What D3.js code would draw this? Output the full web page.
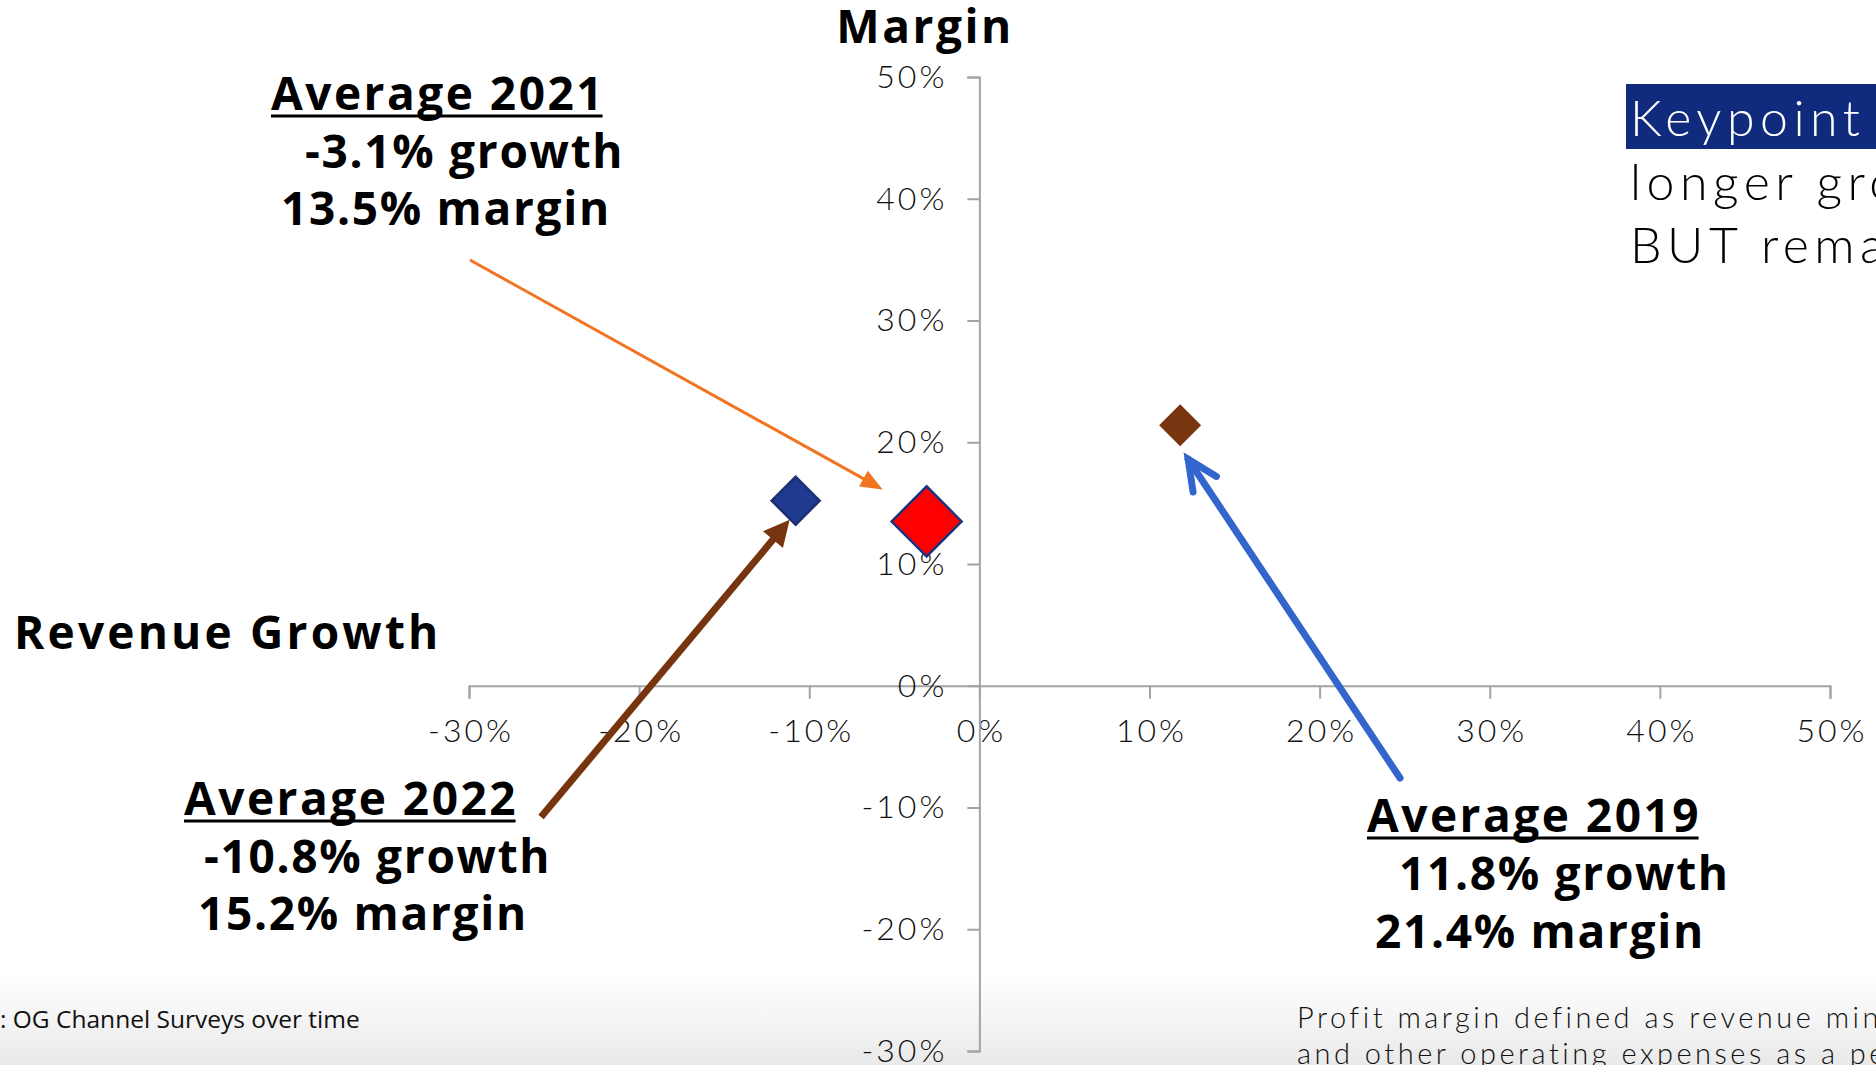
<!DOCTYPE html>
<html>
<head>
<meta charset="utf-8">
<script src="https://cdn.jsdelivr.net/npm/d3@7/dist/d3.min.js"></script>
<style>
  html, body { margin: 0; padding: 0; background: #fff; overflow: hidden; }
  svg { display: block; }
  .light { font-family: "Lato", "Open Sans", sans-serif; font-weight: 300; }
  .bold { font-family: "Open Sans", "Lato", sans-serif; font-weight: 700; }
</style>
</head>
<body>
<svg id="chart" width="1876" height="1065"></svg>
<script>
// Yearly averages: revenue growth vs. profit margin (percent)
const years = ["2019", "2021", "2022"];
const growth = [11.8, -3.1, -10.8];
const margin = [21.4, 13.5, 15.2];
const markerFill = ["#78350f", "#ff0000", "#203a8f"];
const markerStroke = ["none", "#1f3381", "#1c2f73"];
const markerSize = [880, 2450, 1150];

// Axis ticks (percent)
const xTicks = [-30, -20, -10, 0, 10, 20, 30, 40, 50];
const yTicks = [-30, -20, -10, 0, 10, 20, 30, 40, 50];

const svg = d3.select("#chart");
const W = 1876, H = 1065;

// soft grey fade along the bottom edge
const defs = svg.append("defs");
const grad = defs.append("linearGradient").attr("id", "fade")
  .attr("x1", 0).attr("y1", 0).attr("x2", 0).attr("y2", 1);
grad.append("stop").attr("offset", "0%").attr("stop-color", "#ffffff");
grad.append("stop").attr("offset", "100%").attr("stop-color", "#e9e9e9");
svg.append("rect").attr("x", 0).attr("y", 975).attr("width", W).attr("height", H - 975)
  .attr("fill", "url(#fade)");

const x = d3.scaleLinear().domain([-30, 50]).range([469, 1830]);
const y = d3.scaleLinear().domain([-30, 50]).range([1051, 77]);
const pct = d => d + "%";

// horizontal axis through margin = 0
const gx = svg.append("g").attr("transform", `translate(0,${y(0)})`)
  .call(d3.axisBottom(x).tickValues(xTicks).tickFormat(pct).tickSize(13).tickPadding(33));
// vertical axis through growth = 0
const gy = svg.append("g").attr("transform", `translate(${x(0)},0)`)
  .call(d3.axisLeft(y).tickValues(yTicks).tickFormat(pct).tickSize(12).tickPadding(20));

[gx, gy].forEach(g => {
  g.select(".domain").attr("stroke", "#a3a3a3").attr("stroke-width", 2);
  g.selectAll(".tick line").attr("stroke", "#a3a3a3").attr("stroke-width", 2);
  g.selectAll(".tick text").attr("class", "light").attr("font-size", 32)
    .style("letter-spacing", "3px").attr("fill", "#111");
});
gx.selectAll(".tick text").attr("dy", "0.32em").attr("dx", 1.5);

// axis titles
svg.append("text").attr("class", "bold").attr("x", 925).attr("y", 43)
  .attr("text-anchor", "middle").attr("font-size", 46).style("letter-spacing", "2.5px").text("Margin");
svg.append("text").attr("class", "bold").attr("x", 14).attr("y", 649)
  .attr("font-size", 46).style("letter-spacing", "3.2px").text("Revenue Growth");

// arrows from each annotation to its point
const pts = years.map((yr, i) => ({ yr, gx: x(growth[i]), gy: y(margin[i]) }));
const arrowSpec = {
  "2021": { from: [470, 260], tipOff: [-44, -32], color: "#f07422", width: 3, head: "solid", hl: 22, hw: 9 },
  "2022": { from: [541, 817], tipOff: [-6, 19], color: "#76350f", width: 7, head: "solid", hl: 26, hw: 13 },
  "2019": { from: [1400, 778], tipOff: [8, 34], color: "#3366cc", width: 7, head: "open", hl: 30, hw: 14 }
};
pts.forEach(p => {
  const a = arrowSpec[p.yr];
  const tx = p.gx + a.tipOff[0], ty = p.gy + a.tipOff[1];
  const [fx, fy] = a.from;
  const len = Math.hypot(tx - fx, ty - fy);
  const ux = (tx - fx) / len, uy = (ty - fy) / len;
  const nx = -uy, ny = ux;
  const bx = tx - ux * a.hl, by = ty - uy * a.hl;
  if (a.head === "solid") {
    svg.append("line").attr("x1", fx).attr("y1", fy).attr("x2", bx + ux * 2).attr("y2", by + uy * 2)
      .attr("stroke", a.color).attr("stroke-width", a.width);
    svg.append("path")
      .attr("d", `M${tx},${ty}L${bx + nx * a.hw},${by + ny * a.hw}L${bx - nx * a.hw},${by - ny * a.hw}Z`)
      .attr("fill", a.color);
  } else {
    svg.append("line").attr("x1", fx).attr("y1", fy).attr("x2", tx).attr("y2", ty)
      .attr("stroke", a.color).attr("stroke-width", a.width).attr("stroke-linecap", "round");
    svg.append("path")
      .attr("d", `M${bx + nx * a.hw},${by + ny * a.hw}L${tx},${ty}L${bx - nx * a.hw},${by - ny * a.hw}`)
      .attr("fill", "none").attr("stroke", a.color).attr("stroke-width", a.width)
      .attr("stroke-linecap", "round").attr("stroke-linejoin", "miter");
  }
});

// diamond markers
svg.selectAll("path.pt").data(years).join("path").attr("class", "pt")
  .attr("d", (d, i) => d3.symbol(d3.symbolSquare, markerSize[i])())
  .attr("transform", (d, i) => `translate(${x(growth[i])},${y(margin[i])}) rotate(45)`)
  .attr("fill", (d, i) => markerFill[i])
  .attr("stroke", (d, i) => markerStroke[i])
  .attr("stroke-width", 2.5);

// annotation blocks
const labelPos = {
  "2021": [[271, 110], [305, 168], [281, 225]],
  "2022": [[184, 815], [204, 873], [198, 930]],
  "2019": [[1367, 832], [1399, 890], [1375, 948]]
};
years.forEach((yr, i) => {
  const lp = labelPos[yr];
  const lines = ["Average " + yr, growth[i] + "% growth", margin[i] + "% margin"];
  lines.forEach((t, k) => {
    const ls = k === 0 ? 2.5 : 1.7;
    const el = svg.append("text").attr("class", "bold").attr("x", lp[k][0]).attr("y", lp[k][1])
      .attr("font-size", 46).style("letter-spacing", ls + "px").text(t);
    if (k === 0) {
      const w = el.node().getComputedTextLength() - ls;
      svg.append("line").attr("x1", lp[k][0]).attr("x2", lp[k][0] + w)
        .attr("y1", lp[k][1] + 6).attr("y2", lp[k][1] + 6)
        .attr("stroke", "#000").attr("stroke-width", 3);
    }
  });
});

// key point note (runs off the right edge)
svg.append("rect").attr("x", 1626).attr("y", 84).attr("width", W - 1626).attr("height", 65)
  .attr("fill", "#102b7d");
const noteLines = [["Keypoint", 136, "#fff"], ["longer growth", 200, "#000"], ["BUT remains", 263, "#000"]];
noteLines.forEach(([t, yy, c]) => {
  svg.append("text").attr("class", "light").attr("x", 1630).attr("y", yy)
    .attr("font-size", 50).style("letter-spacing", "5.5px").attr("fill", c).text(t);
});

// footnotes
svg.append("text").attr("x", 0).attr("y", 1028)
  .attr("font-family", "'Liberation Sans Narrow', 'Open Sans', sans-serif")
  .attr("font-size", 24.5).attr("fill", "#111").text(": OG Channel Surveys over time");
svg.append("text").attr("class", "light").attr("x", 1297).attr("y", 1028)
  .attr("font-size", 29).style("letter-spacing", "3.5px").attr("fill", "#111")
  .text("Profit margin defined as revenue minus costs");
svg.append("text").attr("class", "light").attr("x", 1297).attr("y", 1064)
  .attr("font-size", 29).style("letter-spacing", "3.5px").attr("fill", "#111")
  .text("and other operating expenses as a percent");
</script>
</body>
</html>
